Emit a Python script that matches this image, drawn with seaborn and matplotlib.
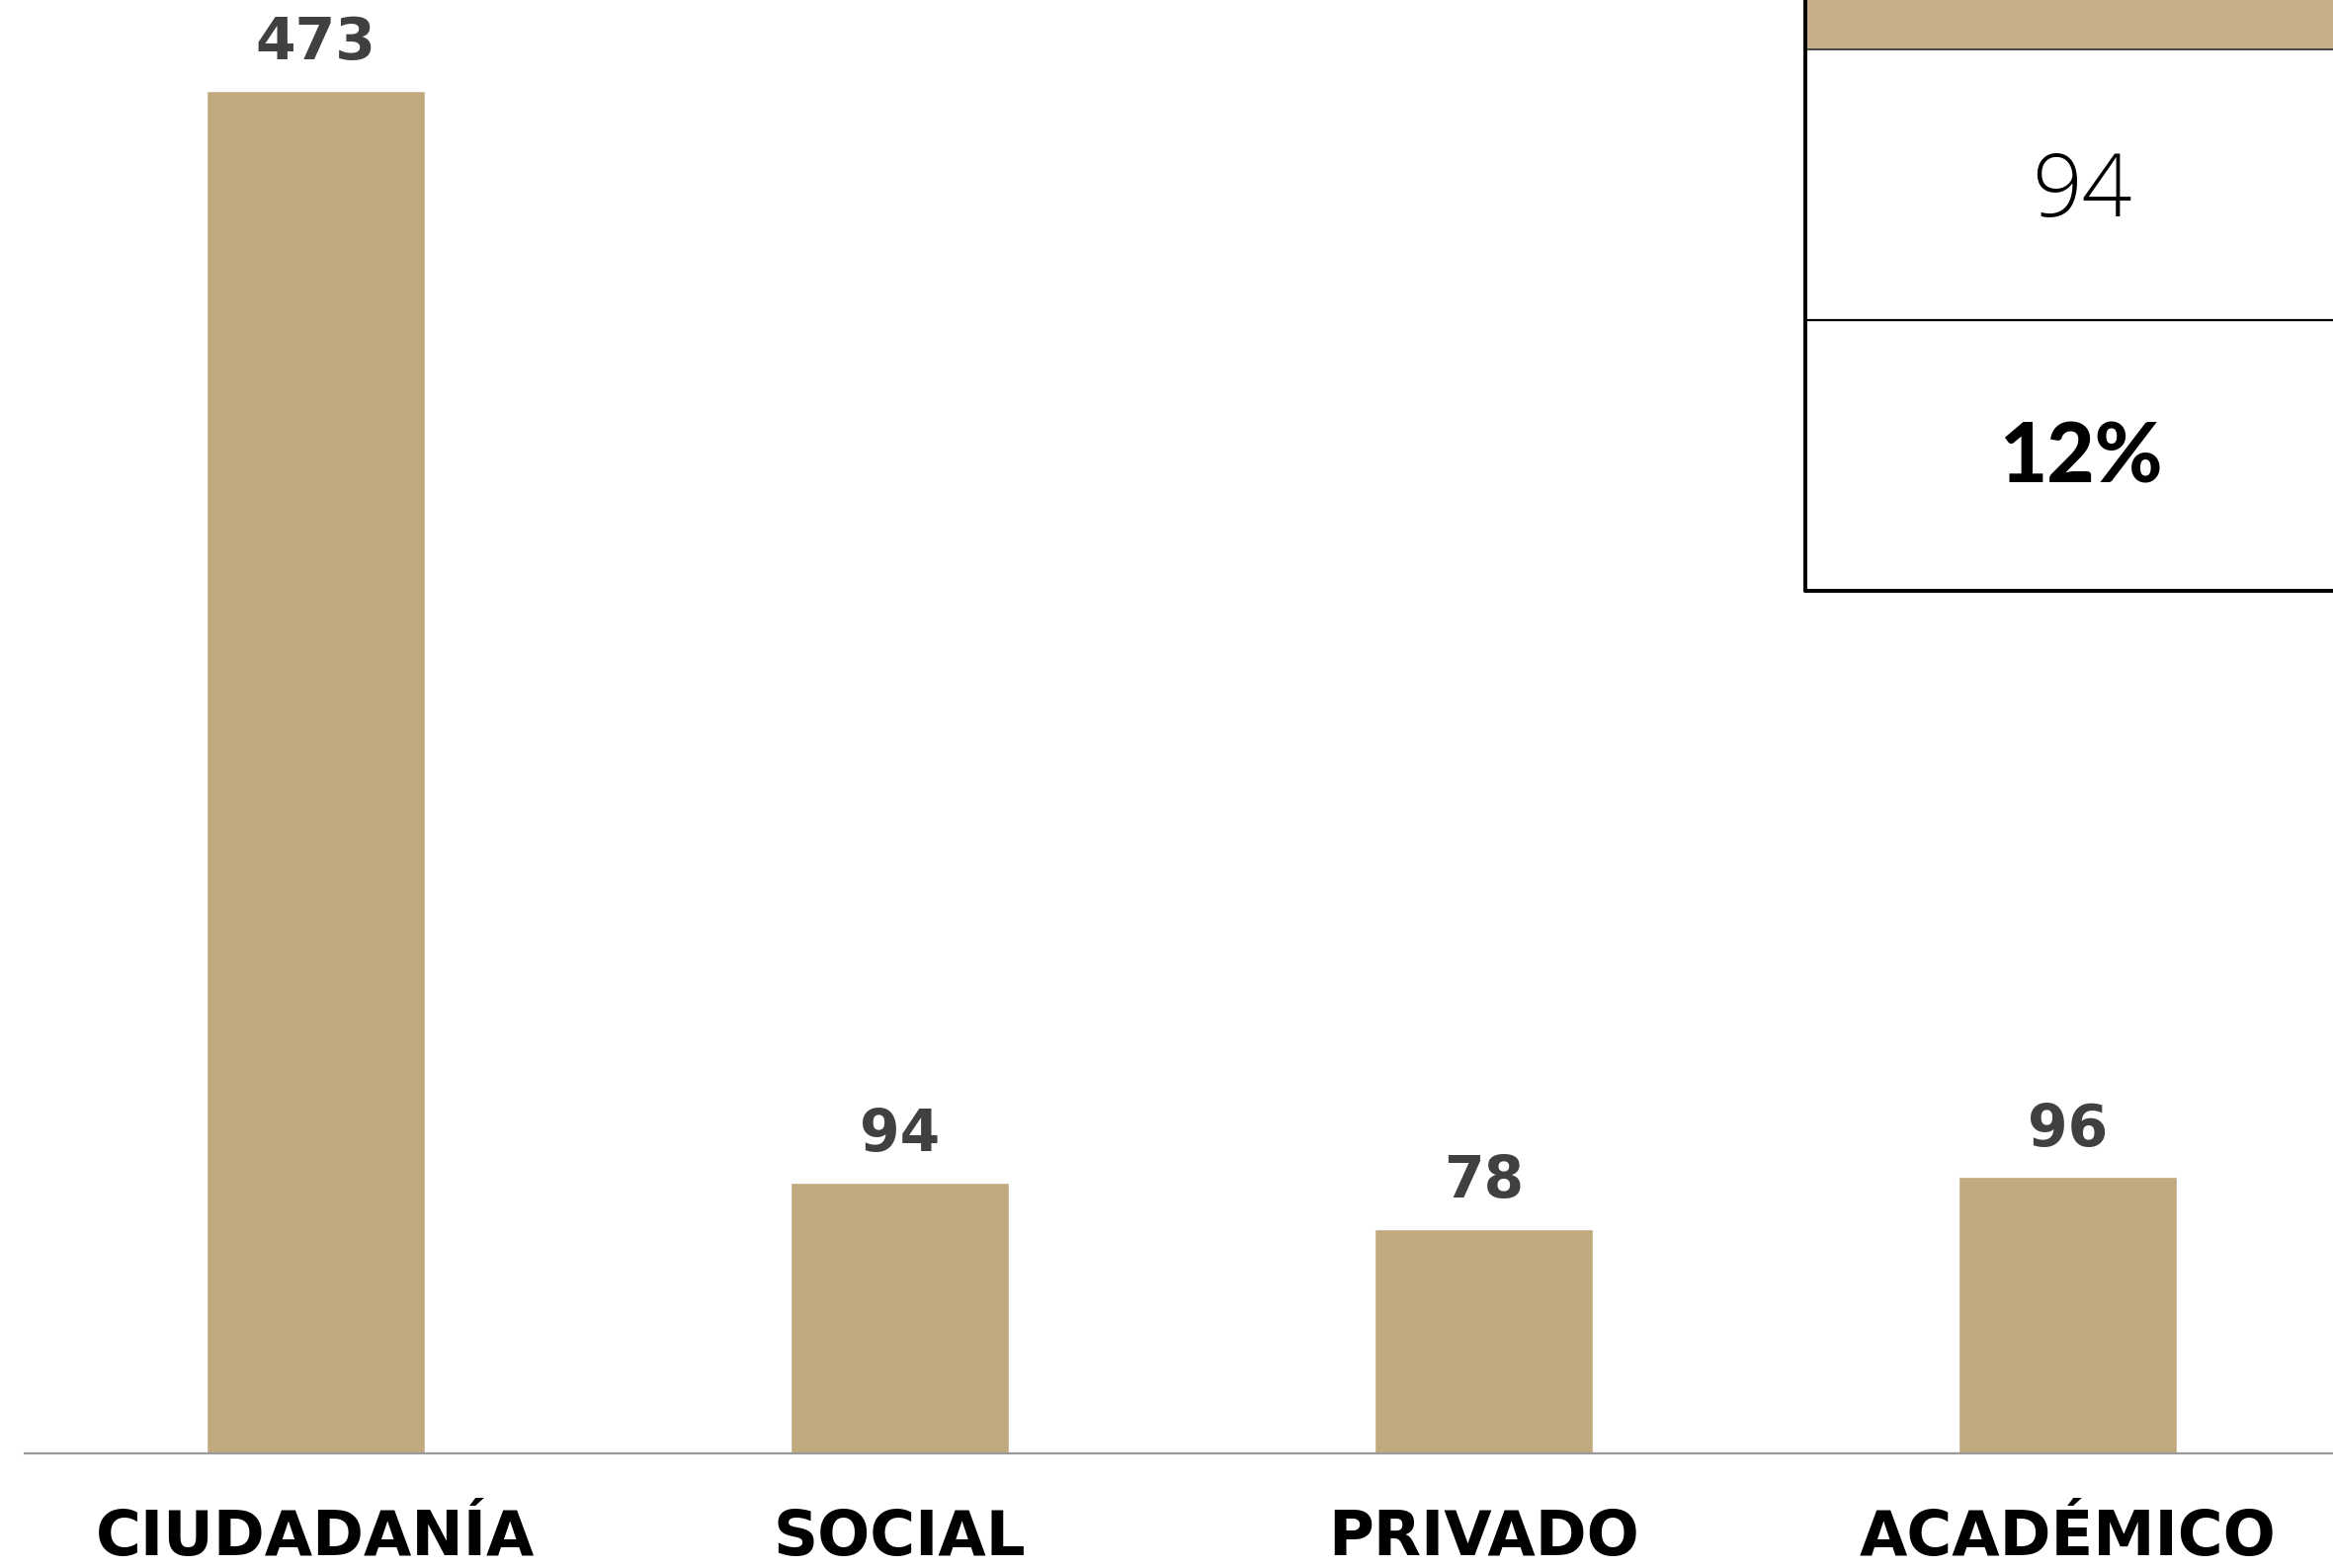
import pandas as pd
import matplotlib
matplotlib.use('Agg')
import matplotlib.pyplot as plt
import seaborn as sns
import matplotlib.patches as patches

# Data
categories = ['CIUDADANÍA', 'SOCIAL', 'PRIVADO', 'ACADÉMICO']
values = [473, 94, 78, 96]
table_count = '94'
table_share = '12%'

df = pd.DataFrame({'Sector': categories, 'Total': values})

bar_color = '#C1A97E'
header_color = '#C5AF88'

sns.set_theme(style='white')
plt.rcParams['font.family'] = ['DejaVu Sans']

W, H = 2361, 1587
fig = plt.figure(figsize=(W / 100, H / 100), dpi=100)
fig.patch.set_facecolor('white')

# axes spans nearly the full picture; baseline sits at y=1471 px
ax = fig.add_axes([25 / W, (H - 1471) / H, 1 - 25 / W, 1471 / H])
sns.barplot(data=df, x='Sector', y='Total', color=bar_color, width=0.374,
            saturation=1, ax=ax)
ax.set_xlim(-0.498, 3.454)
ax.set_ylim(0, 504.5)
ax.set_xlabel('')
ax.set_ylabel('')
ax.set_yticks([])
for side in ['top', 'right', 'left']:
    ax.spines[side].set_visible(False)
ax.spines['bottom'].set_color('#999999')
ax.spines['bottom'].set_linewidth(1.6)
ax.tick_params(axis='x', length=0, pad=40)
for lbl in ax.get_xticklabels():
    lbl.set_fontsize(45)
    lbl.set_fontweight('bold')
    lbl.set_color('black')

# value labels above bars
for container in ax.containers:
    ax.bar_label(container, labels=[str(v) for v in values], padding=14,
                 fontsize=42, fontweight='bold', color='#404040')

# partial summary table in the top-right corner (cut off by the edge)
def fx(px):
    return px / W

def fy(py):
    return 1 - py / H

tx0, tx1 = 1827, 2400
fig.add_artist(patches.Rectangle((fx(tx0), fy(50)), fx(tx1 - tx0), 50 / H,
                                 transform=fig.transFigure, facecolor=header_color,
                                 edgecolor='none'))
fig.add_artist(plt.Line2D([fx(tx0), fx(tx1)], [fy(50), fy(50)],
                          transform=fig.transFigure, color='#444444', lw=1.4))
fig.add_artist(plt.Line2D([fx(tx0), fx(tx1)], [fy(324), fy(324)],
                          transform=fig.transFigure, color='black', lw=1.6))
fig.add_artist(plt.Line2D([fx(tx0), fx(tx1)], [fy(598), fy(598)],
                          transform=fig.transFigure, color='black', lw=2.8))
fig.add_artist(plt.Line2D([fx(tx0), fx(tx0)], [fy(0), fy(598)],
                          transform=fig.transFigure, color='black', lw=2.8))
fig.text(fx(2107), fy(196), table_count, ha='center', va='center',
         fontsize=64, fontweight='light', family=['Open Sans', 'DejaVu Sans'],
         color='black')
fig.text(fx(2106), fy(464), table_share, ha='center', va='center',
         fontsize=60, fontweight='black', family=['Lato', 'DejaVu Sans'],
         color='black')

plt.savefig('out.png', dpi=100)
